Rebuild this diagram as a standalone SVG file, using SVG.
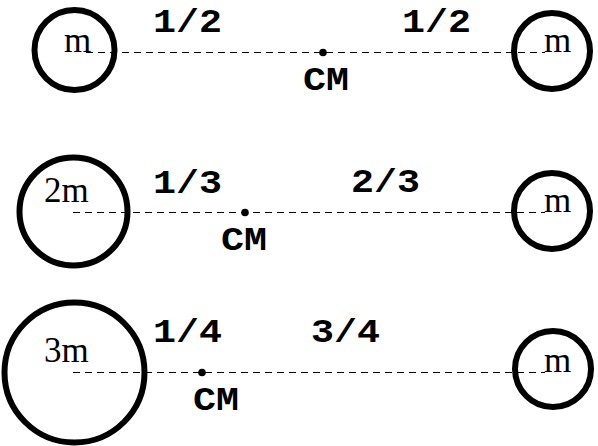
<svg xmlns="http://www.w3.org/2000/svg" width="598" height="446" viewBox="0 0 598 446">
<style>
.mass{fill:none;stroke:#000;stroke-width:6}
.axis{stroke:#000;stroke-width:1;stroke-dasharray:7 5;fill:none}
.cm{fill:#000}
.lbl{font-family:"Liberation Serif","Times New Roman",serif;font-size:35px;fill:#000}
.mono{font-family:"Liberation Mono","Courier New",monospace;font-weight:bold;font-size:33px;fill:#000}
</style>
<rect width="598" height="446" fill="#fff"/>
<g id="connectors">
<line class="axis" x1="86" y1="52.5" x2="545" y2="52.5"/>
<line class="axis" x1="73" y1="212.5" x2="545" y2="212.5"/>
<line class="axis" x1="73" y1="372.5" x2="545" y2="372.5"/>
</g>
<g id="row1-left"><circle class="mass" cx="74.5" cy="50" r="40"/><text class="lbl" x="64" y="52">m</text></g>
<g id="row1-right"><circle class="mass" cx="552" cy="51" r="38"/><text class="lbl" x="544" y="52">m</text></g>
<g id="row1-cm"><circle class="cm" cx="323" cy="52.5" r="3.8"/><text class="mono" x="303" y="90" textLength="46" lengthAdjust="spacingAndGlyphs">CM</text></g>
<g id="row1-frac"><text class="mono" x="153" y="32" textLength="69" lengthAdjust="spacingAndGlyphs">1/2</text><text class="mono" x="402" y="32" textLength="69" lengthAdjust="spacingAndGlyphs">1/2</text></g>
<g id="row2-left"><circle class="mass" cx="73.5" cy="211.5" r="54"/><text class="lbl" x="44" y="202">2m</text></g>
<g id="row2-right"><circle class="mass" cx="552" cy="211" r="38"/><text class="lbl" x="544" y="212">m</text></g>
<g id="row2-cm"><circle class="cm" cx="245" cy="212.5" r="3.8"/><text class="mono" x="221" y="250" textLength="46" lengthAdjust="spacingAndGlyphs">CM</text></g>
<g id="row2-frac"><text class="mono" x="153" y="193" textLength="69" lengthAdjust="spacingAndGlyphs">1/3</text><text class="mono" x="351" y="192" textLength="69" lengthAdjust="spacingAndGlyphs">2/3</text></g>
<g id="row3-left"><circle class="mass" cx="74.5" cy="372.5" r="70"/><text class="lbl" x="44" y="362">3m</text></g>
<g id="row3-right"><circle class="mass" cx="553" cy="369" r="38"/><text class="lbl" x="544" y="372">m</text></g>
<g id="row3-cm"><circle class="cm" cx="202" cy="372.5" r="3.8"/><text class="mono" x="193" y="410" textLength="46" lengthAdjust="spacingAndGlyphs">CM</text></g>
<g id="row3-frac"><text class="mono" x="153" y="342" textLength="69" lengthAdjust="spacingAndGlyphs">1/4</text><text class="mono" x="311" y="342" textLength="69" lengthAdjust="spacingAndGlyphs">3/4</text></g>
</svg>
